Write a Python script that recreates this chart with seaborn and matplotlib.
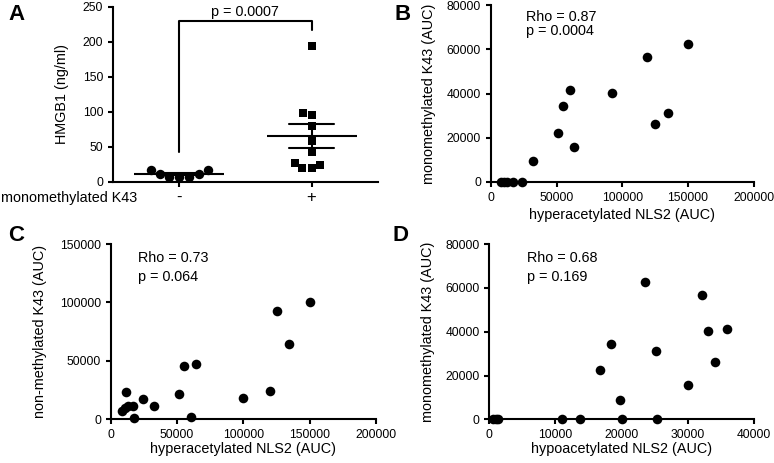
import numpy as np
import pandas as pd
import seaborn as sns
import matplotlib.pyplot as plt

# panel A: HMGB1 (ng/ml) by monomethylated K43 status
hmgb1_neg = [17, 11.5, 7.6, 7, 7.6, 11.5, 16.7]
hmgb1_pos = [194.7, 98, 95, 80, 58, 43, 27, 24, 20.5, 20.5]
groups = ['-', '+']

# panel B: hyperacetylated NLS2 vs monomethylated K43
b_x = [7600, 10100, 12100, 16700, 23500, 31900, 51100, 54700, 60200, 63500,
       91900, 118400, 125000, 134400, 150300]
b_y = [0, 0, 0, 0, 0, 9500, 22300, 34400, 41400, 15800,
       40200, 56500, 26400, 31200, 62300]

# panel C: hyperacetylated NLS2 vs non-methylated K43
c_x = [8500, 10500, 13000, 16500, 11500, 17600, 24600, 32600, 51700, 55300,
       64300, 60800, 99500, 120000, 125000, 134600, 150200]
c_y = [7000, 9500, 11000, 11500, 23400, 600, 16900, 11100, 21100, 45700,
       46900, 1700, 18300, 24000, 92300, 64600, 100300]

# panel D: hypoacetylated NLS2 vs monomethylated K43
d_x = [650, 1000, 1400, 11000, 13700, 20100, 25400, 16700, 18400, 19700,
       23600, 25200, 32200, 33100, 34200, 36000, 30100]
d_y = [0, 0, 0, 0, 0, 0, 0, 22400, 34400, 9100,
       62700, 31200, 56600, 40200, 26300, 41400, 15700]

sns.set_theme(style="ticks")
plt.rcParams['font.family'] = ['Liberation Sans', 'DejaVu Sans']
plt.rcParams['axes.linewidth'] = 1.5
plt.rcParams['xtick.major.width'] = 1.5
plt.rcParams['ytick.major.width'] = 1.5
plt.rcParams['xtick.major.size'] = 3.5
plt.rcParams['ytick.major.size'] = 3.5
plt.rcParams['xtick.labelsize'] = 8.7
plt.rcParams['ytick.labelsize'] = 8.7
plt.rcParams['axes.labelsize'] = 10.4
plt.rcParams['axes.edgecolor'] = 'black'
plt.rcParams['axes.labelcolor'] = 'black'
plt.rcParams['text.color'] = 'black'
plt.rcParams['xtick.color'] = 'black'
plt.rcParams['ytick.color'] = 'black'

fig = plt.figure(figsize=(7.74, 4.63), dpi=100)
axA = fig.add_axes([0.146, 0.607, 0.342, 0.378])
axB = fig.add_axes([0.634, 0.607, 0.340, 0.382])
axC = fig.add_axes([0.143, 0.095, 0.343, 0.378])
axD = fig.add_axes([0.632, 0.094, 0.342, 0.379])

# --- A ---
dfA = pd.DataFrame({
    'group': ['-'] * len(hmgb1_neg) + ['+'] * len(hmgb1_pos),
    'HMGB1': hmgb1_neg + hmgb1_pos,
})
sns.swarmplot(data=dfA[dfA.group == '-'], x='group', y='HMGB1', order=groups,
              color='black', marker='o', size=6.8, ax=axA, clip_on=False)
sns.swarmplot(data=dfA[dfA.group == '+'], x='group', y='HMGB1', order=groups,
              color='black', marker='s', size=6.3, ax=axA, clip_on=False)
sns.pointplot(data=dfA, x='group', y='HMGB1', order=groups, estimator='mean',
              errorbar='se', capsize=0.34, linestyle='none', marker='_',
              markersize=65, markeredgewidth=1.5, color='black',
              err_kws={'linewidth': 1.5}, ax=axA)
axA.set_xlim(-0.5, 1.5)
axA.set_ylim(0, 250)
axA.set_yticks([0, 50, 100, 150, 200, 250])
axA.set_xlabel('')
axA.set_ylabel('HMGB1 (ng/ml)')
axA.yaxis.set_label_coords(-0.168, 0.5)
axA.tick_params(axis='x', labelsize=12, pad=2)
# significance bracket
axA.plot([0, 0, 1, 1], [43, 230, 230, 217], color='black', lw=1.5,
         clip_on=False)
axA.text(0.5, 233, 'p = 0.0007', ha='center', va='bottom', fontsize=10.4)
fig.text(137 / 774, 1 - 198 / 463, 'monomethylated K43', ha='right',
         va='center', fontsize=10.4)

# --- scatter panels ---
panels = [
    (axB, b_x, b_y, 'hyperacetylated NLS2 (AUC)', 'monomethylated K43 (AUC)',
     (0, 200000), (0, 80000), 50000, 20000, 'Rho = 0.87', 'p = 0.0004'),
    (axC, c_x, c_y, 'hyperacetylated NLS2 (AUC)', 'non-methylated K43 (AUC)',
     (0, 200000), (0, 150000), 50000, 50000, 'Rho = 0.73', 'p = 0.064'),
    (axD, d_x, d_y, 'hypoacetylated NLS2 (AUC)', 'monomethylated K43 (AUC)',
     (0, 40000), (0, 80000), 10000, 20000, 'Rho = 0.68', 'p = 0.169'),
]
ylab_x = {axB: -0.208, axC: -0.24, axD: -0.204}
xlab_y = {axB: -0.15, axC: -0.13, axD: -0.13}
txt_pos = {axB: (0.133, 0.934, 0.855), axC: (0.102, 0.918, 0.813),
           axD: (0.142, 0.918, 0.813)}
for ax, xs, ys, xl, yl, xlim, ylim, xstep, ystep, rho, p in panels:
    sns.scatterplot(x=xs, y=ys, ax=ax, color='black', s=48, linewidth=0,
                    clip_on=False, zorder=3)
    ax.set_xlim(*xlim)
    ax.set_ylim(*ylim)
    ax.set_xticks(np.arange(xlim[0], xlim[1] + 1, xstep))
    ax.set_yticks(np.arange(ylim[0], ylim[1] + 1, ystep))
    ax.set_xlabel(xl)
    ax.set_ylabel(yl)
    ax.xaxis.set_label_coords(0.5, xlab_y[ax])
    ax.yaxis.set_label_coords(ylab_x[ax], 0.5)
    tx, ty1, ty2 = txt_pos[ax]
    ax.text(tx, ty1, rho, transform=ax.transAxes, va='center', fontsize=10.4)
    ax.text(tx, ty2, p, transform=ax.transAxes, va='center', fontsize=10.4)

for ax in [axA, axB, axC, axD]:
    sns.despine(ax=ax)

# panel letters
for letter, x, y in [('A', 8, 4), ('B', 395, 4), ('C', 8, 225), ('D', 393, 225)]:
    fig.text(x / 774, 1 - y / 463, letter, fontsize=16, fontweight='bold',
             ha='left', va='top')

fig.savefig('out.png', dpi=100)
